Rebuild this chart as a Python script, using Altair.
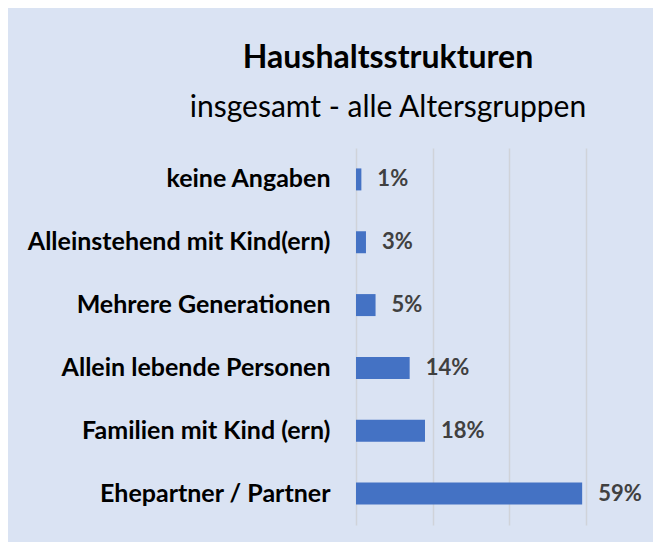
import altair as alt
import pandas as pd

categories = [
    "keine Angaben",
    "Alleinstehend mit Kind(ern)",
    "Mehrere Generationen",
    "Allein lebende Personen\u00a0",
    "Familien mit Kind (ern)",
    "Ehepartner / Partner",
]
values = [0.014, 0.026, 0.051, 0.14, 0.18, 0.59]

df = pd.DataFrame({"kategorie": categories, "anteil": values})

FONT = "Lato"
BG = "#dae3f3"

x_enc = alt.X(
    "anteil:Q",
    scale=alt.Scale(domain=[0, 0.6], nice=False, zero=True),
    axis=alt.Axis(
        values=[0, 0.2, 0.4, 0.6],
        labels=False, ticks=False, domain=False, title=None,
        grid=True, gridColor="#d0d3d9", gridWidth=1.5,
    ),
)
y_enc = alt.Y(
    "kategorie:N",
    sort=categories,
    scale=alt.Scale(paddingInner=0.65, paddingOuter=0.325),
    axis=alt.Axis(
        title=None, ticks=False, domain=False, grid=False,
        labelFont=FONT, labelFontSize=25, labelFontWeight="bold",
        labelColor="#000000", labelPadding=26, labelLimit=400,
    ),
)

bars = alt.Chart(df).mark_bar(color="#4472c4").encode(x=x_enc, y=y_enc)

labels = alt.Chart(df).mark_text(
    align="left", baseline="middle", dx=16,
    font=FONT, fontSize=22, fontWeight="bold", color="#404040",
).encode(
    x="anteil:Q",
    y=alt.Y("kategorie:N", sort=categories),
    text=alt.Text("anteil:Q", format=".0%"),
)

chart = alt.layer(bars, labels).properties(
    width=230,
    height=377,
    background=BG,
    autosize=alt.AutoSizeParams(type="none"),
    padding={"left": 348, "top": 140, "right": 67, "bottom": 17},
    title=alt.TitleParams(
        text="Haushaltsstrukturen",
        subtitle="insgesamt - alle Altersgruppen",
        anchor="middle", frame="group", dx=-83,
        font=FONT, fontSize=32, fontWeight="bold", color="#000000",
        subtitleFont=FONT, subtitleFontSize=30, subtitleColor="#000000",
        subtitleFontWeight="normal", subtitlePadding=18, offset=24,
    ),
).configure_view(stroke=None)

chart.save("out.html", embed_options={"renderer": "svg", "actions": False})
